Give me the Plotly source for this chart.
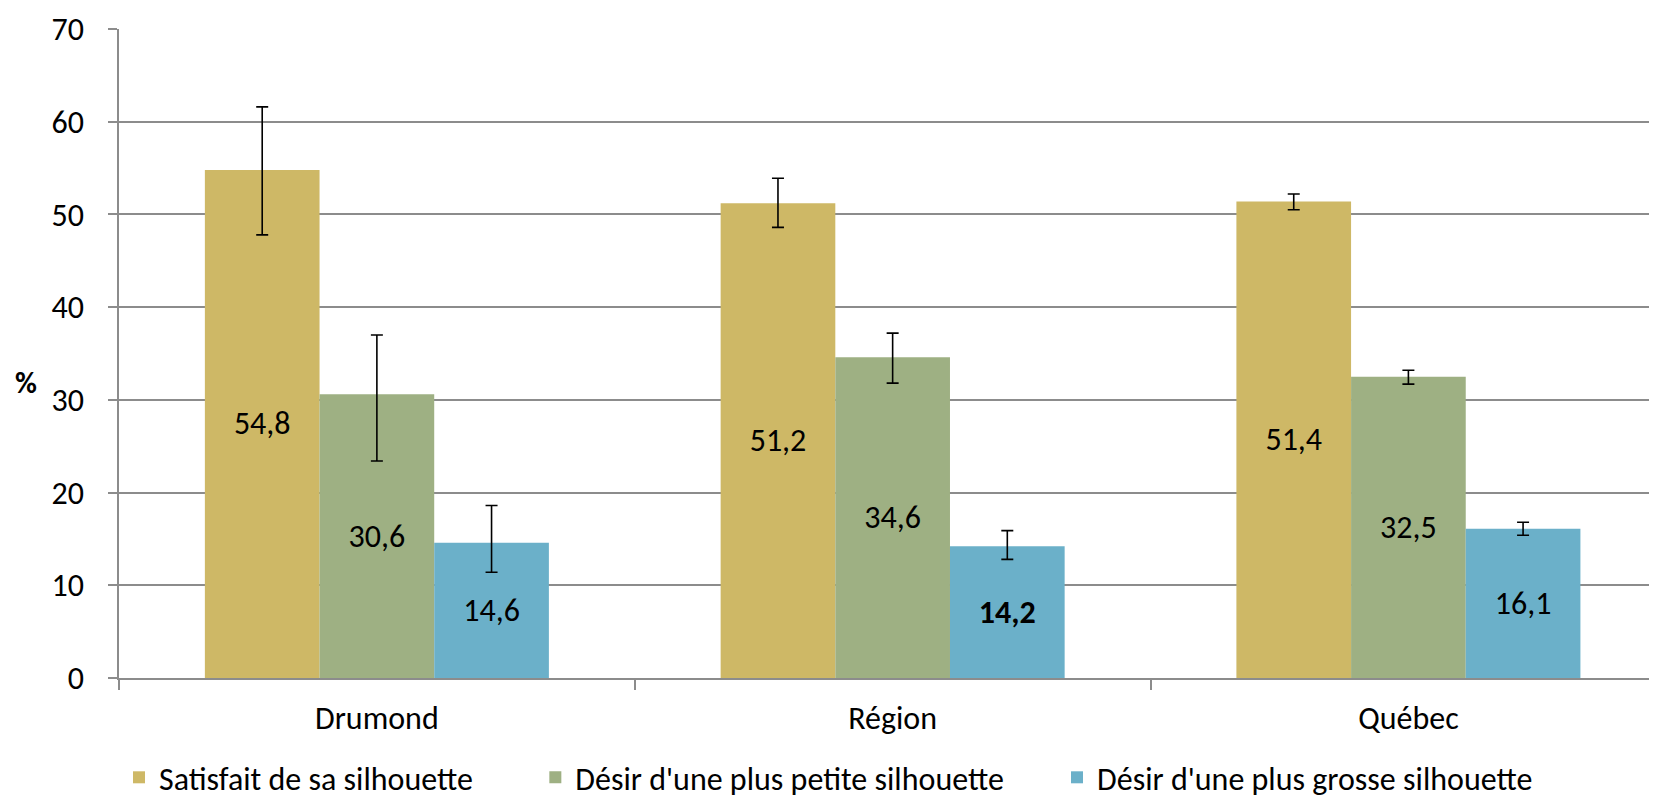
import plotly.graph_objects as go

categories = ["Drumond", "Région", "Québec"]
series_names = ["Satisfait de sa silhouette",
                "Désir d'une plus petite silhouette",
                "Désir d'une plus grosse silhouette"]
satisfait = [54.8, 51.2, 51.4]
petite = [30.6, 34.6, 32.5]
grosse = [14.6, 14.2, 16.1]
# confidence interval bounds
satisfait_hi = [61.6, 53.9, 52.2]
satisfait_lo = [47.8, 48.6, 50.5]
petite_hi = [37.0, 37.2, 33.2]
petite_lo = [23.4, 31.8, 31.7]
grosse_hi = [18.6, 15.9, 16.8]
grosse_lo = [11.4, 12.8, 15.4]
bold_labels = [[False, False, False], [False, False, False], [False, True, False]]
y_ticks = [0, 10, 20, 30, 40, 50, 60, 70]

colors = ["#CEB866", "#9EB083", "#6BB0C9"]
FONT = "Carlito, Calibri, Lato, sans-serif"
FS = 32

def fmt(v, bold):
    s = f"{v:.1f}".replace(".", ",")
    return f"<b>{s}</b>" if bold else s

legend_ids = ["legend", "legend2", "legend3"]

fig = go.Figure()
series = [(satisfait, satisfait_hi, satisfait_lo),
          (petite, petite_hi, petite_lo),
          (grosse, grosse_hi, grosse_lo)]
for i, (vals, hi, lo) in enumerate(series):
    fig.add_trace(go.Bar(
        x=categories, y=vals, name=series_names[i], legend=legend_ids[i],
        marker=dict(color=colors[i], line=dict(width=0)),
        text=[fmt(v, b) for v, b in zip(vals, bold_labels[i])],
        textposition="inside", insidetextanchor="middle",
        textfont=dict(family=FONT, size=FS, color="black"),
        constraintext="none",
        error_y=dict(type="data", symmetric=False,
                     array=[h - v for h, v in zip(hi, vals)],
                     arrayminus=[v - l for v, l in zip(vals, lo)],
                     color="black", thickness=1.6, width=6),
    ))

# page body has an 8px margin: figure occupies 8..1657 x 8..798
W, H = 1649, 790
L, T = 111, 20.5
B = H - 670.5
pw = W - L
ph = H - T - B

legend_x = [0.0, 0.2707, 0.6099]

def leg(x):
    return dict(orientation="h", x=x, xanchor="left",
                yref="container", y=1 - 769.5 / H, yanchor="middle",
                font=dict(family=FONT, size=FS, color="black"),
                itemwidth=30, bgcolor="rgba(0,0,0,0)")

fig.update_layout(
    width=W, height=H,
    margin=dict(l=L, r=0, t=T, b=B, autoexpand=False),
    paper_bgcolor="white", plot_bgcolor="white",
    barmode="group", bargap=0.333, bargroupgap=0,
    font=dict(family=FONT, size=FS, color="black"),
    showlegend=True,
    legend=leg(legend_x[0]), legend2=leg(legend_x[1]), legend3=leg(legend_x[2]),
    xaxis=dict(range=[-0.5, 2.482], showline=True, linecolor="#8C8C8C", linewidth=1.5,
               ticks="outside", tickson="boundaries", ticklen=10, tickcolor="#8C8C8C",
               tickwidth=1.5, showgrid=False, ticklabelstandoff=11, automargin=False,
               tickfont=dict(family=FONT, size=FS, color="black")),
    yaxis=dict(range=[0, 70], tickvals=y_ticks, showline=True, linecolor="#8C8C8C",
               linewidth=1.5, ticks="outside", ticklen=9, tickcolor="#8C8C8C", tickwidth=1.5,
               showgrid=True, gridcolor="#8C8C8C", gridwidth=1.5, zeroline=False,
               automargin=False,
               tickfont=dict(family=FONT, size=FS, color="black"), ticklabelstandoff=18),
    annotations=[dict(text="<b>%</b>", x=(18 - L) / pw, y=(670.5 - 375) / ph,
                      xref="paper", yref="paper", xanchor="center", yanchor="middle",
                      showarrow=False, font=dict(family=FONT, size=FS - 2, color="black"))],
)

fig.write_html("out.html")
